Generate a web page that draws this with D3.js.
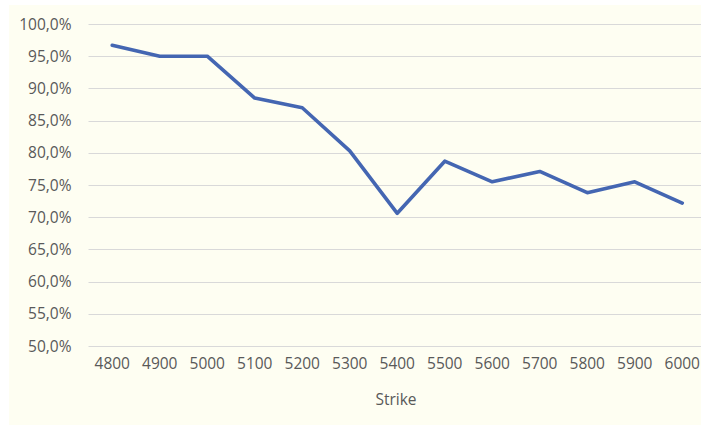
<!DOCTYPE html>
<html>
<head>
<meta charset="utf-8">
<script src="https://cdn.jsdelivr.net/npm/d3@7"></script>
<style>
  html, body { margin: 0; padding: 0; background: #ffffff; }
  svg { display: block; }
</style>
</head>
<body>
<svg id="chart" width="701" height="425"></svg>
<script>
const strikes = ["4800","4900","5000","5100","5200","5300","5400","5500","5600","5700","5800","5900","6000"];
const values = [0.967, 0.950, 0.950, 0.885, 0.870, 0.803, 0.706, 0.787, 0.755, 0.771, 0.738, 0.755, 0.722];
const yTicks = [0.50, 0.55, 0.60, 0.65, 0.70, 0.75, 0.80, 0.85, 0.90, 0.95, 1.00];
const xTitle = "Strike";

const svg = d3.select("#chart");
const W = 701, H = 425;
const font = "'Open Sans', sans-serif";
const textColor = "#595959";

svg.append("rect").attr("x", 9).attr("y", 5).attr("width", W - 9).attr("height", H - 5)
  .attr("fill", "#fefef2");

const x = d3.scaleBand().domain(strikes).range([88.5, 706]);
const y = d3.scaleLinear().domain([0.5, 1.0]).range([346, 24]);

const fmt = v => d3.format(".1f")(v * 100).replace(".", ",") + "%";

const yAxis = d3.axisLeft(y).tickValues(yTicks).tickFormat(fmt).tickSize(0).tickPadding(0);
const gy = svg.append("g").attr("transform", "translate(71.5,0)").call(yAxis);
gy.select(".domain").remove();
gy.selectAll("text").attr("font-family", font).attr("font-size", "15.5px").attr("fill", textColor).attr("dy", "0.33em");

svg.append("g").selectAll("line").data(yTicks).join("line")
  .attr("x1", 88.5).attr("x2", W)
  .attr("y1", d => Math.round(y(d)) + 0.5).attr("y2", d => Math.round(y(d)) + 0.5)
  .attr("stroke", "#d9d9d9").attr("stroke-width", 1.2);

const xAxis = d3.axisBottom(x).tickSize(0).tickPadding(0);
const gx = svg.append("g").attr("transform", "translate(0,358)").call(xAxis);
gx.select(".domain").remove();
gx.selectAll("text").attr("font-family", font).attr("font-size", "15.5px").attr("fill", textColor).attr("dy", "0.72em");

svg.append("text").attr("x", 396).attr("y", 405).attr("text-anchor", "middle")
  .attr("font-family", font).attr("font-size", "15.5px").attr("fill", textColor).text(xTitle);

const line = d3.line().x((d, i) => x(strikes[i]) + x.bandwidth() / 2).y(d => y(d));
svg.append("path").datum(values).attr("d", line)
  .attr("fill", "none").attr("stroke", "#4466b2").attr("stroke-width", 3.6)
  .attr("stroke-linejoin", "round").attr("stroke-linecap", "round");
</script>
</body>
</html>
